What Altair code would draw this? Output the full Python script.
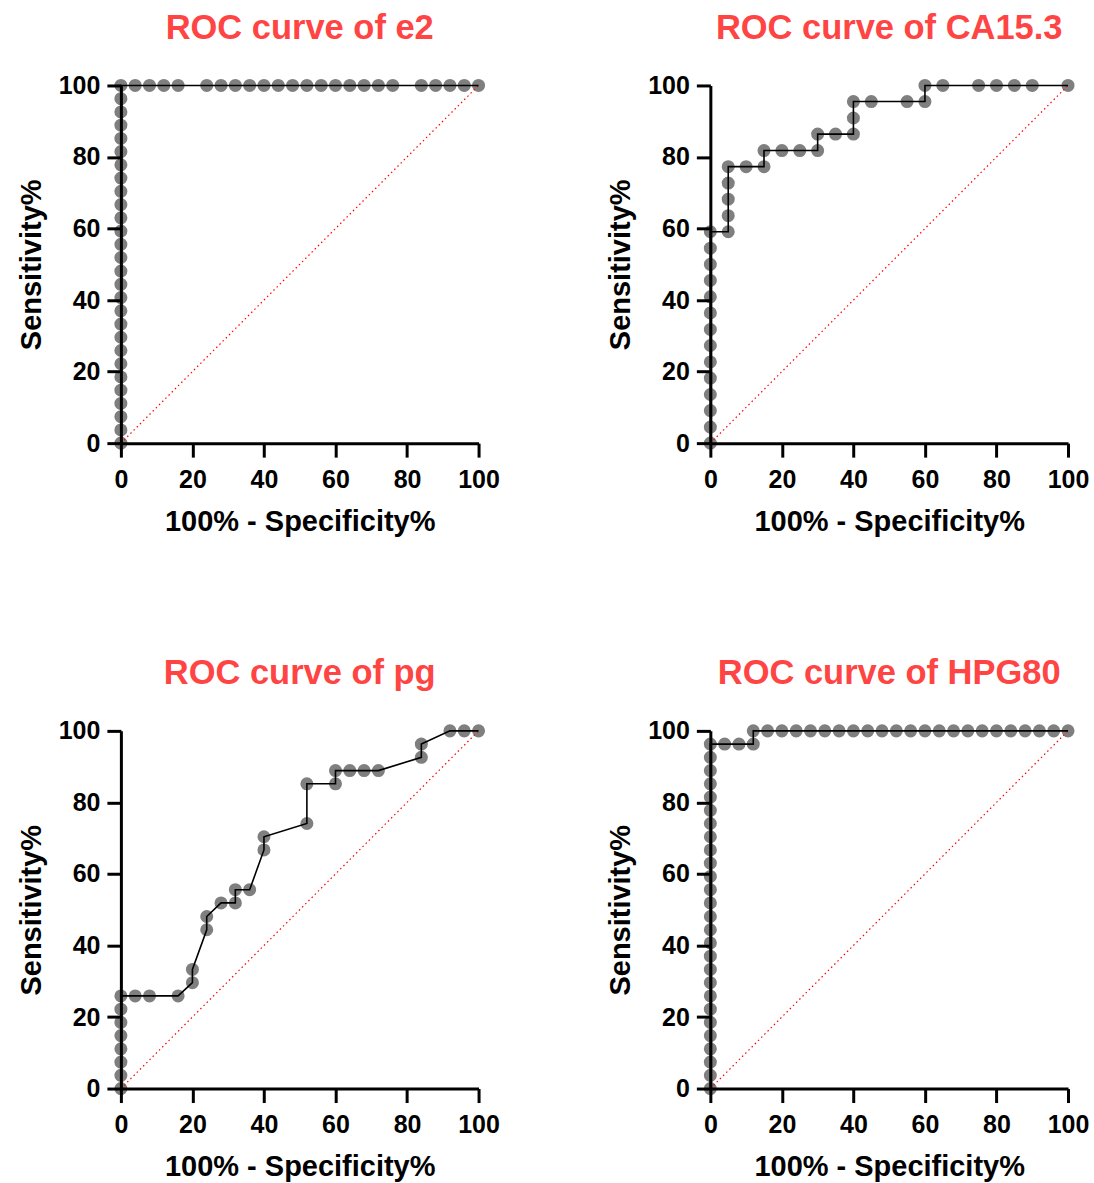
import altair as alt
import pandas as pd

# ---------------- data ----------------
titles = ["ROC curve of e2", "ROC curve of CA15.3", "ROC curve of pg", "ROC curve of HPG80"]

e2_x = [0, 0, 0, 0, 0, 0, 0, 0, 0, 0, 0, 0, 0, 0, 0, 0, 0, 0, 0, 0, 0, 0, 0, 0, 0, 0, 0, 0,
        4, 8, 12, 16, 24, 28, 32, 36, 40, 44, 48, 52, 56, 60, 64, 68, 72, 76, 84, 88, 92, 96, 100]
e2_y = [0, 3.7, 7.4, 11.1, 14.8, 18.5, 22.2, 25.9, 29.6, 33.3, 37.0, 40.7, 44.4, 48.1,
        51.9, 55.6, 59.3, 63.0, 66.7, 70.4, 74.1, 77.8, 81.5, 85.2, 88.9, 92.6, 96.3, 100,
        100, 100, 100, 100, 100, 100, 100, 100, 100, 100, 100, 100, 100, 100, 100, 100, 100,
        100, 100, 100, 100, 100, 100]

ca_x = [0, 0, 0, 0, 0, 0, 0, 0, 0, 0, 0, 0, 0, 0,
        5, 5, 5, 5, 5, 10, 15, 15, 20, 25, 30, 30, 35, 40, 40, 40, 45, 55, 60, 60,
        65, 75, 80, 85, 90, 100]
ca_y = [0, 4.5, 9.1, 13.6, 18.2, 22.7, 27.3, 31.8, 36.4, 40.9, 45.5, 50.0, 54.5, 59.1,
        59.1, 63.6, 68.2, 72.7, 77.3, 77.3, 77.3, 81.8, 81.8, 81.8, 81.8, 86.4, 86.4, 86.4,
        90.9, 95.5, 95.5, 95.5, 95.5, 100,
        100, 100, 100, 100, 100, 100]

pg_x = [0, 0, 0, 0, 0, 0, 0, 0,
        4, 8, 16, 20, 20, 24, 24, 28, 32, 32, 36, 40, 40, 52, 52, 60, 60, 64, 68, 72,
        84, 84, 92, 96, 100]
pg_y = [0, 3.7, 7.4, 11.1, 14.8, 18.5, 22.2, 25.9,
        25.9, 25.9, 25.9, 29.6, 33.3, 44.4, 48.1, 51.9, 51.9, 55.6, 55.6, 66.7, 70.4,
        74.1, 85.2, 85.2, 88.9, 88.9, 88.9, 88.9, 92.6, 96.3, 100, 100, 100]

hpg_x = [0, 0, 0, 0, 0, 0, 0, 0, 0, 0, 0, 0, 0, 0, 0, 0, 0, 0, 0, 0, 0, 0, 0, 0, 0, 0, 0,
         4, 8, 12, 12, 16, 20, 24, 28, 32, 36, 40, 44, 48, 52, 56, 60, 64, 68, 72, 76, 80,
         84, 88, 92, 96, 100]
hpg_y = [0, 3.7, 7.4, 11.1, 14.8, 18.5, 22.2, 25.9, 29.6, 33.3, 37.0, 40.7, 44.4, 48.1,
         51.9, 55.6, 59.3, 63.0, 66.7, 70.4, 74.1, 77.8, 81.5, 85.2, 88.9, 92.6, 96.3,
         96.3, 96.3, 96.3, 100, 100, 100, 100, 100, 100, 100, 100, 100, 100, 100, 100,
         100, 100, 100, 100, 100, 100, 100, 100, 100, 100, 100]

diag_x = [0, 100]
diag_y = [0, 100]
tick_vals = [0, 20, 40, 60, 80, 100]

FONT = "Liberation Sans"
TITLE_RED = "#FF4444"
W = 358
H = 358


def panel(title, xs, ys):
    df = pd.DataFrame({"x": xs, "y": ys, "order": list(range(len(xs)))})
    ddf = pd.DataFrame({"x": diag_x, "y": diag_y})
    xs_ = alt.Scale(domain=[0, 100], nice=False, zero=False)
    ys_ = alt.Scale(domain=[0, 100], nice=False, zero=False)
    xax = alt.Axis(values=tick_vals, title="100% - Specificity%", grid=False,
                   tickSize=14, tickWidth=3, domainWidth=3, domainColor="black",
                   tickColor="black", labelFont=FONT, labelFontSize=25,
                   labelFontWeight="bold", labelColor="black", labelPadding=10,
                   titleFont=FONT, titleFontSize=29, titleFontWeight="bold",
                   titleColor="black", titlePadding=15, zindex=2, labelFlush=False)
    yax = alt.Axis(values=tick_vals, title="Sensitivity%", grid=False,
                   tickSize=14, tickWidth=3, domainWidth=3, domainColor="black",
                   tickColor="black", labelFont=FONT, labelFontSize=25,
                   labelFontWeight="bold", labelColor="black", labelPadding=7,
                   titleFont=FONT, titleFontSize=29, titleFontWeight="bold",
                   titleColor="black", titlePadding=12, zindex=2, labelFlush=False)

    dots = alt.Chart(df).mark_circle(size=170, color="#7F7F7F", opacity=1).encode(
        x=alt.X("x:Q", scale=xs_, axis=xax),
        y=alt.Y("y:Q", scale=ys_, axis=yax),
    )
    line = alt.Chart(df).mark_line(color="black", strokeWidth=1.6).encode(
        x=alt.X("x:Q", scale=xs_),
        y=alt.Y("y:Q", scale=ys_),
        order="order:Q",
    )
    diag = alt.Chart(ddf).mark_line(color="#FF0000", strokeWidth=1.2,
                                    strokeDash=[1.5, 3]).encode(
        x=alt.X("x:Q", scale=xs_),
        y=alt.Y("y:Q", scale=ys_),
    )
    return alt.layer(dots, diag, line).properties(
        width=W, height=H,
        title=alt.TitleParams(text=title, font=FONT, fontSize=34.5, fontWeight="bold",
                              color=TITLE_RED, anchor="middle", frame="group",
                              baseline="alphabetic", offset=0),
    )


charts = [panel(titles[0], e2_x, e2_y), panel(titles[1], ca_x, ca_y),
          panel(titles[2], pg_x, pg_y), panel(titles[3], hpg_x, hpg_y)]

chart = alt.concat(*charts, columns=2, spacing={"row": 288, "column": 232},
                   bounds="flush").configure_view(stroke=None).properties(
    padding={"left": 17, "top": 10, "right": 5, "bottom": 5},
    background="white",
)

chart.save("out.html", embed_options={"renderer": "svg", "actions": False})
